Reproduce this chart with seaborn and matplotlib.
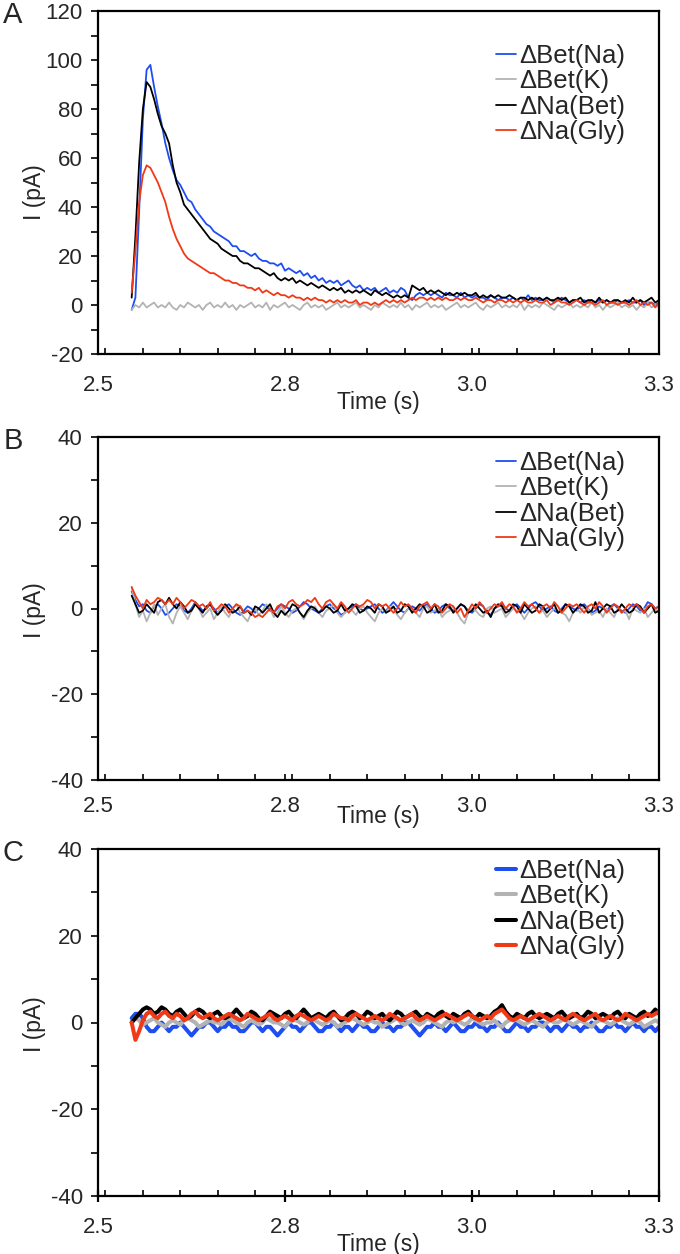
import numpy as np
import pandas as pd
import matplotlib
matplotlib.use("Agg")
import matplotlib.pyplot as plt
import seaborn as sns
from matplotlib.lines import Line2D
from matplotlib.ticker import MultipleLocator, FixedLocator, FixedFormatter

sns.set_theme(style="white")
plt.rcParams["font.family"] = ["Liberation Sans", "DejaVu Sans"]
plt.rcParams["axes.unicode_minus"] = False

# ---------------- data ----------------
SERIES = ["ΔBet(Na)", "ΔBet(K)", "ΔNa(Bet)", "ΔNa(Gly)"]
COLORS = ["#1f4ef0", "#b3b3b3", "#000000", "#f03a17"]
T0, DT = 2.585, 0.005          # sampling start / step of the traces (s)

XTICKS = [2.54, 2.79, 3.04, 3.29]
XTICK_LABELS = ["2.5", "2.8", "3.0", "3.3"]
PANELS = ["A", "B", "C"]

# Panel A
A_bet_na = [-2, 3, 38, 76, 96, 98, 89, 81, 74, 66,
            60, 55, 51, 49, 46, 43, 42, 39, 37, 35,
            33, 32, 30, 29, 28, 27, 26, 24, 24, 22,
            22, 21, 20, 21, 19, 18, 18, 17, 17, 16,
            17, 14, 15, 14, 13, 14, 12, 13, 11, 12,
            10, 11, 9, 10, 9, 10, 8, 9, 10, 8,
            7, 8, 6, 7, 6, 7, 5, 6, 7, 5,
            6, 5, 7, 6, 3, 2, 4, 5, 4, 5,
            4, 5, 4, 3, 5, 4, 4, 3, 5, 3,
            4, 3, 4, 3, 3, 2, 4, 3, 2, 3,
            3, 2, 3, 2, 3, 2, 4, 2, 3, 2,
            2, 3, 2, 1, 2, 3, 2, 1, 2, 2,
            1, 2, 1, 2, 1, 2, 1, 2, 1, 1,
            2, 1, 1, 2, 1, 1, 2, 0, 1, 1,
            0, 1]
A_bet_k = [-2, 0, -1, 1, -1, 0, 1, -1, 0, -1,
           1, -1, -2, 0, -1, 1, 0, -1, 0, -2,
           0, 1, -1, 0, -1, 1, -1, 0, -2, 0,
           -1, 0, 1, -1, 0, -1, 1, -2, 0, -1,
           0, 1, -1, 0, -1, -2, 0, 1, -1, 0,
           -1, 0, -2, -1, 0, 1, -1, 0, -1, 0,
           1, -1, 0, -1, -2, 0, -1, 1, 0, -1,
           0, -1, 1, -1, 0, -2, 0, -1, 0, 1,
           -1, 0, -1, 0, -2, -1, 0, 1, -1, 0,
           -1, 0, 1, -1, -2, 0, -1, 0, 1, -1,
           0, -1, 0, -1, 1, -2, 0, -1, 0, -1,
           1, 0, -1, -2, 0, -1, 0, 1, -1, 0,
           -1, 0, -1, 1, -1, 0, -2, 0, -1, 0,
           1, -1, 0, -1, 0, -2, 0, -1, 1, -1,
           0, -1]
A_na_bet = [3, 28, 58, 80, 91, 89, 84, 78, 73, 70,
            66, 57, 50, 46, 41, 39, 37, 35, 33, 31,
            29, 27, 26, 25, 23, 22, 21, 20, 20, 18,
            17, 17, 16, 15, 15, 14, 13, 12, 13, 11,
            10, 11, 10, 11, 9, 10, 9, 8, 9, 8,
            7, 8, 7, 6, 7, 6, 7, 5, 6, 5,
            6, 5, 6, 5, 4, 6, 5, 4, 5, 4,
            3, 4, 3, 4, 3, 8, 7, 6, 7, 5,
            6, 5, 6, 5, 4, 5, 4, 5, 4, 5,
            4, 4, 5, 3, 4, 3, 4, 3, 4, 3,
            3, 4, 3, 2, 3, 3, 2, 3, 2, 3,
            2, 3, 2, 2, 3, 2, 3, 1, 2, 2,
            3, 1, 2, 2, 1, 3, 1, 2, 1, 2,
            2, 1, 2, 1, 3, 1, 2, 1, 2, 3,
            1, 2]
A_na_gly = [5, 22, 42, 53, 57, 56, 53, 50, 46, 42,
            36, 31, 27, 24, 21, 19, 18, 17, 16, 15,
            14, 13, 13, 12, 11, 10, 10, 9, 9, 8,
            8, 7, 7, 6, 7, 5, 6, 5, 4, 5,
            4, 4, 3, 4, 3, 3, 2, 3, 2, 3,
            2, 2, 1, 2, 1, 2, 1, 2, 1, 1,
            2, 0, 1, 1, 0, 1, 0, 1, 2, 1,
            2, 1, 2, 1, 2, 3, 2, 3, 3, 2,
            3, 2, 3, 2, 3, 2, 2, 3, 2, 3,
            2, 2, 3, 2, 1, 2, 2, 1, 2, 2,
            1, 2, 1, 2, 1, 2, 1, 1, 2, 1,
            1, 2, 0, 1, 2, 1, 1, 0, 1, 2,
            1, 0, 1, 1, 0, 1, 2, 0, 1, 1,
            0, 1, 1, 0, 1, 2, 0, 1, 0, 1,
            -1, 1]

# Panel B
B_bet_na = [4, 2, 0.5, 1, -0.5, -1, 0.5, 1, 0, -1.5,
            -1, 0, 1, 0.5, -0.5, -1, 0, 1.5, 0.5, -0.5,
            0, 1, 0, -1, -0.5, 0.5, 1, 0, -1, -1.5,
            -0.5, 0.5, 0, -1, 0, 1, 0.5, -0.5, -1, 0,
            1, 0.5, 0, -1, -0.5, 0.5, 1.5, 1, 0, -0.5,
            -1, 0, 0.5, 1, 0, -0.5, -1.5, -1, 0, 0.5,
            1, 0, -0.5, 0, 0.5, 1, 0, -1, -0.5, 0.5,
            1.5, 0.5, -0.5, -1, 0, 0.5, 0, -0.5, 0.5, 1,
            0, -1, -0.5, 0.5, 1, 0, -0.5, 0, 1, 0.5,
            -0.5, -1, 0, 1, 0.5, -1, -1.5, 0, 0.5, 1,
            0, -0.5, 0.5, 1, 0, -1, 0, 1, 1.5, 0.5,
            -0.5, 0, 0.5, -0.5, -1, 0, 1, 0.5, 0, -0.5,
            0.5, 1, 0, -1, -0.5, 0.5, 0, -0.5, 0.5, 1,
            0, -0.5, -1, 0, 1, 0.5, -0.5, 0, 1.5, 1,
            0, 0.5]
B_bet_k = [5, 1, -2, -0.5, -3, -1, 1, -1.5, 0, 1,
           -2, -3.5, -1, 0.5, -1, -2.5, -0.5, 1, 0, -2,
           -1, 0, -2.5, -1, 0.5, -1, -2, 0, 1, -1,
           -2, -3, -1, 0, -1.5, -0.5, 1, 0, -2, -1,
           0.5, -1, -2, -0.5, 0, -1, -2.5, -1, 0, 0.5,
           -1, -2, -0.5, 0, 1, -1, -2, -1, 0, -0.5,
           -1.5, 0, 0.5, -1, -2, -3, -1, 0, -1, 0.5,
           0, -1.5, -2.5, -1, 0, -0.5, -1, -2, 0, 0.5,
           -1, -0.5, 0, -2, -1, -0.5, 0.5, -1, -2.5, -3.5,
           -1, 0, -0.5, -1.5, -2, 0, 0.5, -1, -0.5, 0,
           -2, -1, 0, -0.5, -1, -2.5, -1, 0, 0.5, -1,
           -0.5, -2, -1, 0, -0.5, -1, -1.5, -3, -1, 0,
           -1, 0.5, 0, -1.5, -1, -0.5, -2, 0, -1, -2,
           0, -1, -0.5, -2.5, 0, -0.5, -1, 0, -2, -1,
           0, -1]
B_na_bet = [3, 1, -1, -0.5, 1, 0, -1, 1.5, 2, 1,
            2.5, 1, 0, 1.5, 0.5, -1, -0.5, 1, 0, -1,
            0.5, 1, -0.5, -1.5, -0.5, 1, 0, -1, -0.5, 0.5,
            -1, -0.5, -1.5, 0.5, 0, -1, 0, 1, -1, -2,
            -0.5, -1.5, -0.5, 1, 0.5, -1, -2, -0.5, 0.5, 0,
            -1, -0.5, 0.5, 0, -1, -0.5, 1, -0.5, 0, 1,
            0.5, -1, -0.5, 0.5, 0, -1, 1, 0.5, -1, -0.5,
            0.5, -1, -0.5, 1, 0.5, -1, 0, 1, 0.5, -1,
            -0.5, 1, -1, -0.5, 1, 0.5, -1, 0, 1, 0.5,
            -1, -0.5, 1, 0, -1, -0.5, -2, 0, 1, 0.5,
            -1, -0.5, 1, 0.5, -1, 1, 0, -1, -0.5, 1,
            0.5, -1, 0, 1, -1, -0.5, 1, 0.5, -1, 0,
            1, 0.5, -1, -0.5, 1.5, -1, 0, 1, 0.5, -1,
            -0.5, 1, 0, -1, -0.5, 1, 0.5, -1, 0, 1,
            -1, -0.5]
B_na_gly = [5, 3, 1.5, 0, 2, 1, 1.5, 2.5, 2, 1,
            2, 1, 2.5, 1.5, 0, 1, 2, 1.5, 0.5, 1,
            0, 1.5, -0.5, 0, 1, 0.5, -1, 0, 1, 0.5,
            -1, -0.5, -1, -2, -1.5, -2, -1, 0, -1, 0.5,
            1, 0, 1.5, 2, 1, 0.5, 1, 2, 1.5, 2.5,
            1, 0, 1.5, 2, 1, 0, 1.5, 0.5, -1, 0,
            1, 0.5, 1, 2, 1.5, 0, 1, 0.5, 1, 0,
            -1, 0, 1.5, 0.5, 1, 0, -1, 0.5, 1, 1.5,
            0, 1, 0.5, -1, 0, 1, 0.5, -1, 0, -2,
            -0.5, 1, 0, 1.5, 0.5, -1, 0, 1, 0.5, 1.5,
            0, 1, 0.5, -1, 0, 1.5, 0.5, 1, 0, -1,
            0.5, 1, 0, 1.5, 0.5, -1, 0, 1, 0.5, 1,
            0, -1, 0.5, 1, 0, 1.5, 0.5, -1, 0, 1,
            0.5, -1, 0, 1, 0.5, 1, 0, -1, 0.5, 1,
            0, 0.5]

# Panel C
C_bet_na = [1, 2, 2, 1, -1, -2, -2, -1, 0, -1,
            -2, -1, -1, 0, -1, -2, -3, -2, -1, -1,
            0, 0, -1, -2, -1, -1, 0, -1, -1, -2,
            -2, -1, 0, 0, -1, -2, -1, -1, -2, -3,
            -2, -1, 0, -1, -1, -2, -1, 0, 0, -1,
            -2, -2, -1, -1, 0, -1, -2, -1, -1, -2,
            -1, 0, -1, -1, -2, -2, -1, 0, -1, -1,
            -2, -1, -1, 0, 0, -1, -2, -3, -2, -1,
            -1, 0, -1, -1, -2, -1, 0, -1, -2, -2,
            -1, -1, 0, -1, -1, -2, -1, -1, 0, -1,
            -2, -2, -1, 0, -1, -1, -2, -1, -1, 0,
            0, -1, -2, -1, -1, -2, -1, 0, -1, -1,
            -2, -1, -1, 0, -1, -2, -2, -1, -1, 0,
            -1, -1, -2, -1, 0, -1, -1, -2, -1, -1,
            -2, -1]
C_bet_k = [0, 1, 0.5, -0.5, 0, 0.5, 1, 0, -0.5, -1,
           0, 0.5, 0, -0.5, 0.5, 1, 0.5, 0, -1, -0.5,
           0, 0.5, 0, 0, -0.5, 0.5, 1, 0.5, 0, -0.5,
           -1, 0, 0.5, 0, -0.5, 0, 1, 0.5, 0, 0,
           -0.5, -1, 0, 0.5, 0.5, 0, -0.5, 0, 1, 0.5,
           0, -0.5, 0, 0.5, 0, -1, -0.5, 0, 0.5, 1,
           0.5, 0, -0.5, 0, 0.5, 0, 0, -1, -0.5, 0,
           0.5, 1, 0, -0.5, 0, 0.5, 0, -0.5, 0, 1,
           0.5, 0, -0.5, -1, 0, 0.5, 0, 0.5, 0, -0.5,
           0, 1, 0.5, 0, -0.5, 0, 0, 0.5, -0.5, -1,
           0, 0.5, 1, 0.5, 0, -0.5, 0, 0.5, 0, -0.5,
           -1, 0, 0.5, 0, 0, 0.5, 1, 0, -0.5, 0,
           0.5, 0, -0.5, -1, 0, 0.5, 0.5, 0, -0.5, 0,
           1, 0.5, 0, -0.5, 0, 0.5, 0, -1, -0.5, 0,
           0.5, 0]
C_na_bet = [0, 1, 2, 3, 3.5, 3, 2, 2.5, 3.5, 3,
            2, 1.5, 2.5, 3, 2, 1, 1.5, 2.5, 3, 2.5,
            1.5, 1, 2, 2.5, 1.5, 1, 1.5, 2, 3, 2,
            1, 1.5, 2.5, 2, 1, 0.5, 1.5, 2.5, 2, 1.5,
            1, 2, 2.5, 1.5, 1, 2, 3, 2, 1, 1.5,
            2, 1.5, 1, 2, 2.5, 1.5, 0.5, 1, 2, 2.5,
            2, 1, 1.5, 2.5, 2, 1, 1.5, 2, 1, 0.5,
            1.5, 2.5, 2, 1, 1.5, 2, 2.5, 1.5, 1, 2,
            1.5, 1, 2, 2.5, 1.5, 1, 2, 1.5, 1, 2,
            2.5, 1.5, 1, 2, 1.5, 1, 1.5, 2.5, 3, 4,
            2.5, 1.5, 1, 2, 1.5, 1, 2, 2.5, 1.5, 1,
            1.5, 2, 1.5, 1, 2, 2.5, 1.5, 1, 1.5, 2,
            1, 1.5, 2.5, 2, 1, 1.5, 2, 1.5, 1, 2,
            2.5, 1.5, 1, 2, 1.5, 1, 2, 2.5, 1.5, 2,
            3, 2]
C_na_gly = [0, -4, -2, 0.5, 2, 2.5, 1.5, 1, 2, 2.5,
            1.5, 1, 2, 1.5, 0.5, 1, 2, 2.5, 1.5, 1,
            1.5, 2, 1, 0.5, 1, 1.5, 2, 1.5, 1, 0.5,
            1, 2, 1.5, 1, 0.5, 1, 1.5, 2, 1, 0.5,
            1, 1.5, 1, 0.5, 1.5, 2, 1.5, 1, 0.5, 1,
            1.5, 1, 0.5, 1, 2, 1.5, 1, 1, 0.5, 1.5,
            2, 1.5, 1, 0.5, 1, 1.5, 1, 0.5, 1, 2,
            1.5, 1, 0.5, 1, 1.5, 2, 1, 0.5, 1, 1.5,
            1, 0.5, 1, 1.5, 2, 1.5, 1, 0.5, 1, 1.5,
            2, 1.5, 1, 0.5, 1, 1.5, 1, 2, 2.5, 3,
            2, 1, 0.5, 1, 1.5, 1, 0.5, 1, 1.5, 2,
            1.5, 1, 0.5, 1, 1.5, 1, 0.5, 1.5, 2, 1.5,
            1, 0.5, 1, 1.5, 2, 1, 0.5, 1, 1.5, 1,
            0.5, 1, 2, 1.5, 1, 0.5, 1, 1.5, 2, 1.5,
            2, 2.5]

PANEL_DATA = {
    "A": [A_bet_na, A_bet_k, A_na_bet, A_na_gly],
    "B": [B_bet_na, B_bet_k, B_na_bet, B_na_gly],
    "C": [C_bet_na, C_bet_k, C_na_bet, C_na_gly],
}
YLIMS = {"A": (-20, 120), "B": (-40, 40), "C": (-40, 40)}


def long_frame(series_values):
    frames = []
    for name, vals in zip(SERIES, series_values):
        vals = np.asarray(vals, dtype=float)
        t = T0 + DT * np.arange(len(vals))
        frames.append(pd.DataFrame({"t": t, "I": vals, "series": name}))
    return pd.concat(frames, ignore_index=True)


# ---------------- figure ----------------
W, H = 680, 1254
fig = plt.figure(figsize=(W / 100, H / 100), dpi=100)
fig.patch.set_facecolor("white")

# axes boxes in pixels: (top, bottom)
BOXES = {"A": (11, 354), "B": (437, 780), "C": (849, 1196)}
LEFT, RIGHT = 98, 659
LEG_TOP = {"A": 44, "B": 451, "C": 859}
XLABEL_Y = {"A": 403, "B": 817, "C": 1244}
YLABEL_Y = {"A": 192, "B": 610, "C": 1024}
XPAD = {"A": 15, "B": 11.5}
FS_TICK = 16
FS_LAB = 16.5
FS_LEG = 18.5

palette = dict(zip(SERIES, COLORS))

for p in PANELS:
    top, bot = BOXES[p]
    ax = fig.add_axes([LEFT / W, 1 - bot / H, (RIGHT - LEFT) / W, (bot - top) / H])
    lw = 2.9 if p == "C" else 1.3
    df = long_frame(PANEL_DATA[p])
    sns.lineplot(data=df, x="t", y="I", hue="series", hue_order=SERIES,
                 palette=palette, linewidth=lw, estimator=None, sort=False,
                 legend=False, ax=ax)
    ax.set_xlim(XTICKS[0], XTICKS[-1])
    ax.set_ylim(*YLIMS[p])
    ax.xaxis.set_major_locator(FixedLocator(XTICKS))
    ax.xaxis.set_major_formatter(FixedFormatter(XTICK_LABELS))
    ax.xaxis.set_minor_locator(MultipleLocator(0.05))
    ax.yaxis.set_major_locator(MultipleLocator(20))
    ax.yaxis.set_minor_locator(MultipleLocator(10))
    for s in ax.spines.values():
        s.set_color("black")
        s.set_linewidth(1.6)
    ax.tick_params(axis="y", which="both", direction="out", length=5,
                   width=1.2, color="black", labelsize=FS_TICK, pad=6, left=True)
    if p == "C":
        ax.tick_params(axis="x", which="major", direction="inout", length=9,
                       width=1.6, color="black", labelsize=FS_TICK, pad=10.5, bottom=True)
        ax.tick_params(axis="x", which="minor", direction="in", length=4.5,
                       width=1.2, color="black", bottom=True)
    else:
        ax.tick_params(axis="x", which="both", direction="in", length=4.5,
                       width=1.2, color="black", labelsize=FS_TICK, pad=XPAD[p], bottom=True)
    ax.set_xlabel("Time (s)", fontsize=FS_LAB, va="center")
    ax.set_ylabel("I (pA)", fontsize=FS_LAB, va="center")
    ax.xaxis.set_label_coords(0.5, (bot - XLABEL_Y[p]) / (bot - top))
    ax.yaxis.set_label_coords((34 - LEFT) / (RIGHT - LEFT), (bot - YLABEL_Y[p]) / (bot - top))
    ax.grid(False)

    handles = [Line2D([], [], color=c, lw=lw) for c in COLORS]
    ax.legend(handles, SERIES, loc="upper right",
              bbox_to_anchor=(625 / W, 1 - LEG_TOP[p] / H),
              bbox_transform=fig.transFigure, frameon=False, fontsize=FS_LEG,
              handlelength=0.8, handletextpad=0.1, labelspacing=0.05,
              borderpad=0, borderaxespad=0)

    fig.text(13 / W, 1 - (top + 4) / H, p, fontsize=21, ha="center", va="center")

fig.savefig("out.png", dpi=100, facecolor="white")
